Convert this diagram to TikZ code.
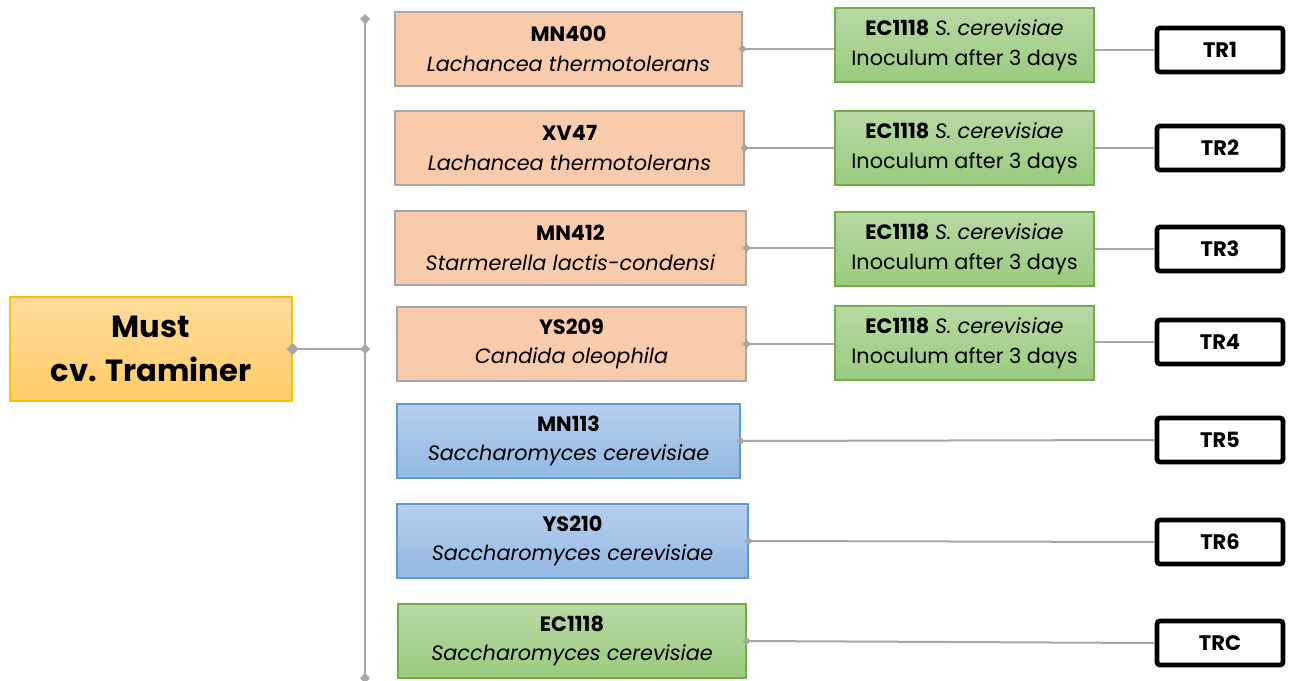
\documentclass[tikz,border=0pt]{standalone}
\usepackage{fontspec}
\setmainfont{Poppins}
\usepackage{tikz}
\usetikzlibrary{arrows.meta, shadows, calc}

\definecolor{mustTop}{HTML}{FFDB9C}
\definecolor{mustBot}{HTML}{FFCC66}
\definecolor{mustLine}{HTML}{FFC000}
\definecolor{peach}{HTML}{F8CBAD}
\definecolor{greenTop}{HTML}{B7D8A3}
\definecolor{greenBot}{HTML}{9BCB7F}
\definecolor{greenLine}{HTML}{70AD47}
\definecolor{blueTop}{HTML}{B6CFEC}
\definecolor{blueBot}{HTML}{93B8E3}
\definecolor{blueLine}{HTML}{5B9BD5}
\definecolor{link}{HTML}{A6A6A6}

\tikzset{
  strainbox/.style={draw=link, line width=0.6pt, fill=peach, align=center,
    minimum height=37pt, inner sep=0pt, font=\fontsize{10.4}{14.8}\selectfont},
  yeastbox/.style={strainbox, draw=blueLine, top color=blueTop, bottom color=blueBot},
  ecbox/.style={strainbox, draw=greenLine, top color=greenTop, bottom color=greenBot},
  trbox/.style={draw=black, line width=2.4pt, fill=white, rounded corners=1.5pt,
    minimum width=63pt, minimum height=22pt, inner sep=0pt,
    drop shadow={opacity=0.25, shadow xshift=0.6pt, shadow yshift=-0.8pt},
    font=\fontsize{10.5}{12}\selectfont\bfseries},
  link/.style={draw=link, line width=1pt},
  dia/.style={{Diamond[length=4pt, width=4pt]}-, shorten <=-2pt}
}

\begin{document}
\begin{tikzpicture}[x=0.5pt, y=-0.5pt]
  \useasboundingbox (0,0) rectangle (1290,680);

  \node[draw=mustLine, line width=0.6pt, top color=mustTop, bottom color=mustBot,
        minimum width=141pt, minimum height=52pt, align=center,
        font=\fontsize{15.3}{22}\selectfont\bfseries] (must) at (151,349) {Must\\cv. Traminer};

  \coordinate (top) at (365,19);
  \coordinate (bot) at (365,678);
  \draw[link, {Diamond[length=5pt, width=5pt]}-{Diamond[length=5pt, width=5pt]},
        shorten <=-2.5pt, shorten >=-2.5pt] (top) -- (bot);
  \draw[link, {Diamond[length=6pt, width=6pt]}-{Diamond[length=5pt, width=5pt]},
        shorten <=-3pt, shorten >=-2.5pt] (must.east) -- (must.east -| top);

  \node[strainbox, minimum width=173.5pt] (s1) at (568.5,49) {\textbf{MN400}\\\textit{Lachancea thermotolerans}};
  \node[strainbox, minimum width=174.5pt] (s2) at (569.5,148) {\textbf{XV47}\\\textit{Lachancea thermotolerans}};
  \node[strainbox, minimum width=175.5pt] (s3) at (570.5,248) {\textbf{MN412}\\\textit{Starmerella lactis-condensi}};
  \node[strainbox, minimum width=174.5pt] (s4) at (571.5,344) {\textbf{YS209}\\\textit{Candida oleophila}};
  \node[yeastbox, minimum width=171.5pt] (s5) at (568.5,441) {\textbf{MN113}\\\textit{Saccharomyces cerevisiae}};
  \node[yeastbox, minimum width=175.5pt] (s6) at (572.5,541) {\textbf{YS210}\\\textit{Saccharomyces cerevisiae}};
  \node[ecbox, minimum width=174pt] (s7) at (572,641) {\textbf{EC1118}\\\textit{Saccharomyces cerevisiae}};

  \node[ecbox, minimum width=129.5pt] (i1) at (964.5,45) {\textbf{EC1118} \textit{S. cerevisiae}\\Inoculum after 3 days};
  \node[ecbox, minimum width=129.5pt] (i2) at (964.5,148) {\textbf{EC1118} \textit{S. cerevisiae}\\Inoculum after 3 days};
  \node[ecbox, minimum width=129.5pt] (i3) at (964.5,249) {\textbf{EC1118} \textit{S. cerevisiae}\\Inoculum after 3 days};
  \node[ecbox, minimum width=129.5pt] (i4) at (964.5,343) {\textbf{EC1118} \textit{S. cerevisiae}\\Inoculum after 3 days};

  \node[trbox] (tr1) at (1220,50) {TR1};
  \node[trbox] (tr2) at (1220,148) {TR2};
  \node[trbox] (tr3) at (1220,249) {TR3};
  \node[trbox] (tr4) at (1220,342) {TR4};
  \node[trbox] (tr5) at (1220,440) {TR5};
  \node[trbox] (tr6) at (1220,542) {TR6};
  \node[trbox] (trc) at (1220,643) {TRC};

  \draw[link, dia] (s1.east) -- (s1.east -| i1.west);
  \draw[link, dia] (s2.east) -- (s2.east -| i2.west);
  \draw[link, dia] (s3.east) -- (s3.east -| i3.west);
  \draw[link, dia] (s4.east) -- (s4.east -| i4.west);
  \draw[link, dia] (s5.east) -- (tr5.west);
  \draw[link, dia] (s6.east) -- (tr6.west);
  \draw[link, dia] (s7.east) -- (trc.west);

  \draw[link] (i1.east |- tr1) -- (tr1.west);
  \draw[link] (i2.east |- tr2) -- (tr2.west);
  \draw[link] (i3.east |- tr3) -- (tr3.west);
  \draw[link] (i4.east |- tr4) -- (tr4.west);
\end{tikzpicture}
\end{document}
